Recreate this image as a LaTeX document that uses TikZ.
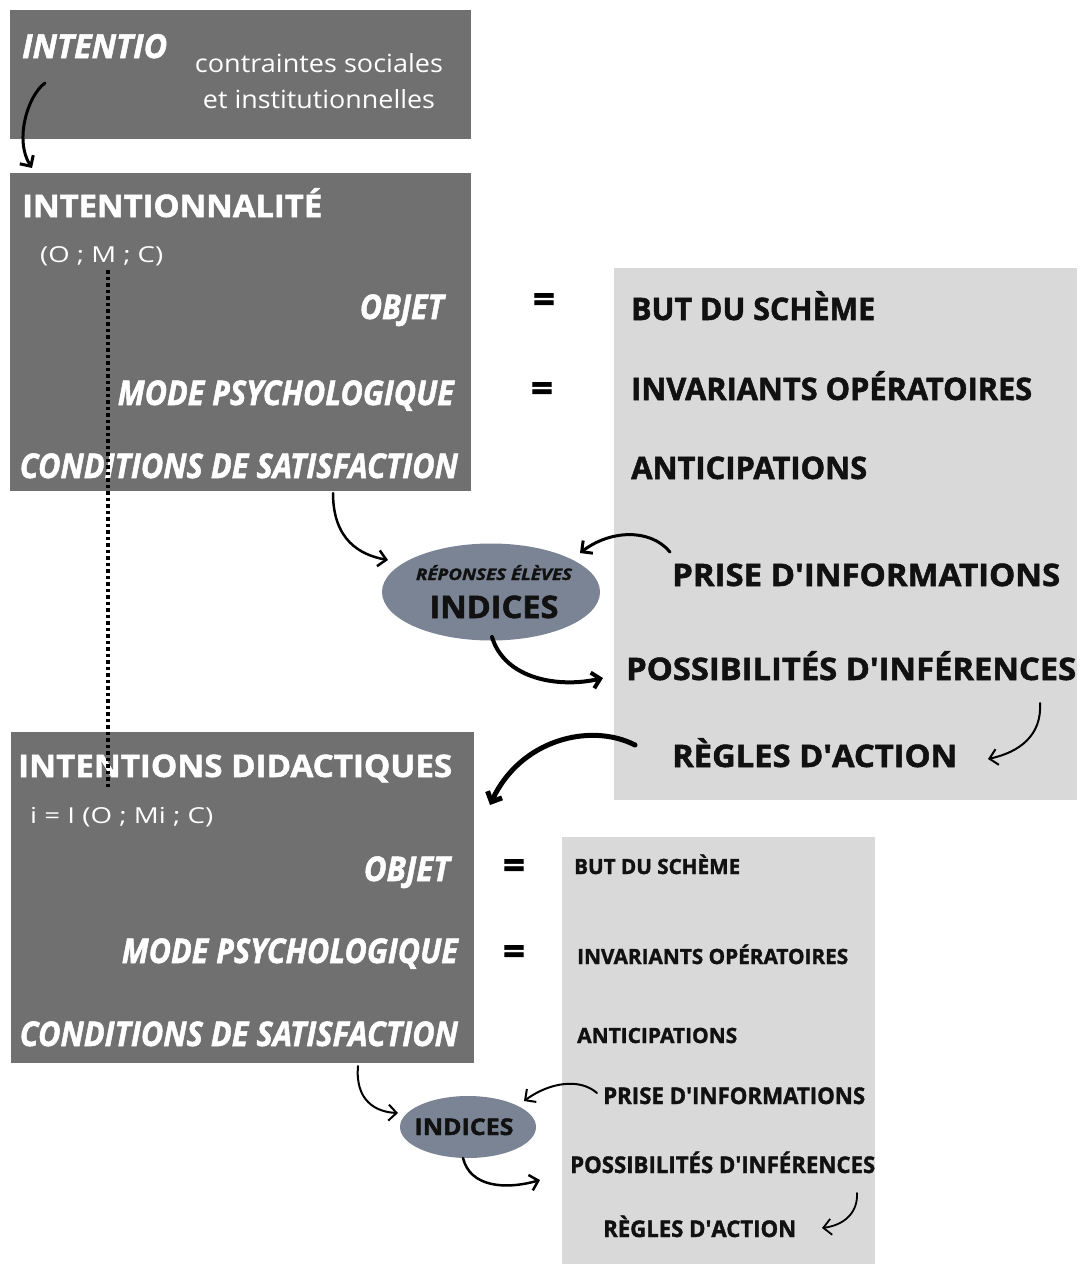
\documentclass[tikz,border=0pt]{standalone}
\usepackage{fontspec}
\setmainfont{Open Sans}[BoldFeatures={FakeBold=1.6}, BoldItalicFeatures={FakeBold=1.6}]
\usetikzlibrary{arrows.meta,shapes.geometric}
\newcommand{\fw}[2]{\resizebox{#1}{\height}{#2}}
\newcommand{\fsz}[1]{\fontsize{#1}{#1}\selectfont}
\newcommand{\apo}{\textquotesingle}
\definecolor{boxdark}{HTML}{707070}
\definecolor{boxlight}{HTML}{D9D9D9}
\definecolor{ellcol}{HTML}{7A8494}
\definecolor{txtdark}{HTML}{111111}
\tikzset{
  darkbox/.style={fill=boxdark, draw=none, inner sep=0, anchor=north west},
  lightbox/.style={fill=boxlight, draw=none, inner sep=0, anchor=north west},
  ellbox/.style={ellipse, fill=ellcol, draw=none, inner sep=0},
  wtxt/.style={text=white, inner sep=0},
  btxt/.style={text=txtdark, inner sep=0},
  eqsign/.style={text=black, inner sep=0, font=\fsz{38}\bfseries},
  arr/.style={draw=black, line cap=round, -{Straight Barb[length=8pt,width=16pt]}},
  dotline/.style={draw=black, line width=3.5pt, dash pattern=on 3.5pt off 3pt}
}
\begin{document}
\begin{tikzpicture}[x=1pt,y=-1pt]
\useasboundingbox (0,0) rectangle (1083,1264);
% boxes
\node[darkbox, minimum width=461, minimum height=129] (box1) at (10,10) {};
\node[darkbox, minimum width=461, minimum height=318] (box2) at (10,173) {};
\node[lightbox, minimum width=463, minimum height=532] (grey1) at (614,268) {};
\node[darkbox, minimum width=463, minimum height=331] (box3) at (11,732) {};
\node[lightbox, minimum width=313, minimum height=427] (grey2) at (562,837) {};
\node[ellbox, minimum width=218, minimum height=97] (ell1) at (491,592) {};
\node[ellbox, minimum width=136, minimum height=62] (ell2) at (468,1127) {};

% box 1
\node[wtxt, anchor=base west] (intentio) at (22,58) {\fw{145pt}{\fsz{33}\bfseries\itshape INTENTIO}};
\node[wtxt, anchor=base] (contr1) at (319,72) {\fw{248pt}{\fsz{25}contraintes sociales}};
\node[wtxt, anchor=base] (contr2) at (319,108) {\fw{232pt}{\fsz{25}et institutionnelles}};

% box 2
\node[wtxt, anchor=base west] (intnal) at (22,217) {\fw{300pt}{\fsz{31}\bfseries INTENTIONNALITÉ}};
\node[wtxt, anchor=base west] (omc) at (40,262) {\fw{123pt}{\fsz{22}(O ; M ; C)}};
\node[wtxt, anchor=base east] (obj1) at (444,319) {\fw{84pt}{\fsz{34}\bfseries\itshape OBJET}};
\node[wtxt, anchor=base east] (mode1) at (454,405) {\fw{336pt}{\fsz{34}\bfseries\itshape MODE PSYCHOLOGIQUE}};
\node[wtxt, anchor=base east] (cond1) at (458,478) {\fw{438pt}{\fsz{34}\bfseries\itshape CONDITIONS DE SATISFACTION}};
\node[eqsign] (eq1) at (544,303) {=};
\node[eqsign] (eq2) at (542,392) {=};

% grey 1
\node[btxt, anchor=base west] (but1) at (631,320) {\fw{244pt}{\fsz{31}\bfseries BUT DU SCHÈME}};
\node[btxt, anchor=base west] (inv1) at (631,400) {\fw{401pt}{\fsz{31}\bfseries INVARIANTS OPÉRATOIRES}};
\node[btxt, anchor=base west] (anti1) at (631,479) {\fw{236pt}{\fsz{31}\bfseries ANTICIPATIONS}};
\node[btxt, anchor=base west] (prise1) at (672,586) {\fw{388pt}{\fsz{31}\bfseries PRISE D\apo INFORMATIONS}};
\node[btxt, anchor=base west] (poss1) at (626,680) {\fw{450pt}{\fsz{31}\bfseries POSSIBILITÉS D\apo INFÉRENCES}};
\node[btxt, anchor=base west] (regl1) at (672,767) {\fw{285pt}{\fsz{31}\bfseries RÈGLES D\apo ACTION}};

% ellipse 1
\node[btxt, anchor=base] (rep) at (494,580) {\fw{156pt}{\fsz{16}\bfseries\itshape RÉPONSES ÉLÈVES}};
\node[btxt, anchor=base] (ind1) at (494,618) {\fw{129pt}{\fsz{31}\bfseries INDICES}};

% box 3
\node[wtxt, anchor=base west] (intdid) at (18,777) {\fw{434pt}{\fsz{31}\bfseries INTENTIONS DIDACTIQUES}};
\node[wtxt, anchor=base west] (iomc) at (30,823) {\fw{183pt}{\fsz{22}i = I (O ; Mi ; C)}};
\node[wtxt, anchor=base east] (obj2) at (450,881) {\fw{86pt}{\fsz{34}\bfseries\itshape OBJET}};
\node[wtxt, anchor=base east] (mode2) at (458,963) {\fw{336pt}{\fsz{34}\bfseries\itshape MODE PSYCHOLOGIQUE}};
\node[wtxt, anchor=base east] (cond2) at (458,1046) {\fw{438pt}{\fsz{34}\bfseries\itshape CONDITIONS DE SATISFACTION}};
\node[eqsign] (eq3) at (514,869) {=};
\node[eqsign] (eq4) at (514,955) {=};

% grey 2
\node[btxt, anchor=base west] (but2) at (574,874) {\fw{166pt}{\fsz{21}\bfseries BUT DU SCHÈME}};
\node[btxt, anchor=base west] (inv2) at (577,964) {\fw{271pt}{\fsz{21}\bfseries INVARIANTS OPÉRATOIRES}};
\node[btxt, anchor=base west] (anti2) at (577,1043) {\fw{160pt}{\fsz{21}\bfseries ANTICIPATIONS}};
\node[btxt, anchor=base west] (prise2) at (603,1104) {\fw{262pt}{\fsz{23}\bfseries PRISE D\apo INFORMATIONS}};
\node[btxt, anchor=base west] (poss2) at (570,1173) {\fw{305pt}{\fsz{23}\bfseries POSSIBILITÉS D\apo INFÉRENCES}};
\node[btxt, anchor=base west] (regl2) at (603,1237) {\fw{193pt}{\fsz{23}\bfseries RÈGLES D\apo ACTION}};
\node[btxt, anchor=base] (ind2) at (464,1135) {\fw{99pt}{\fsz{23}\bfseries INDICES}};

% dotted line
\coordinate (dtop) at (108,270);
\coordinate (dbot) at (108,790);
\draw[dotline] (dtop) -- (dbot);

% arrow coordinates
\coordinate (a1s) at (45,83);   \coordinate (a1e) at (32,168);
\coordinate (a2s) at (333,493); \coordinate (a2e) at (388,560);
\coordinate (a3s) at (670,552); \coordinate (a3e) at (580,553);
\coordinate (a4s) at (492,637); \coordinate (a4e) at (603,678);
\coordinate (a5s) at (1040,703);\coordinate (a5e) at (988,759);
\coordinate (a6s) at (635,745); \coordinate (a6e) at (490,805);
\coordinate (b1s) at (358,1066);\coordinate (b1e) at (398,1113);
\coordinate (b2s) at (597,1093);\coordinate (b2e) at (524,1101);
\coordinate (b3s) at (463,1158);\coordinate (b3e) at (540,1180);
\coordinate (b4s) at (857,1193);\coordinate (b4e) at (822,1228);

\draw[arr, line width=3pt] (a1s) .. controls (28,95) and (14,140) .. (a1e);
\draw[arr, line width=2.5pt] (a2s) .. controls (333,540) and (360,555) .. (a2e);
\draw[arr, line width=3pt] (a3s) .. controls (650,528) and (610,530) .. (a3e);
\draw[arr, line width=4pt] (a4s) .. controls (505,680) and (560,688) .. (a4e);
\draw[arr, line width=2pt] (a5s) .. controls (1042,735) and (1020,752) .. (a5e);
\draw[arr, line width=5pt] (a6s) .. controls (590,722) and (520,740) .. (a6e);
\draw[arr, line width=2pt] (b1s) .. controls (355,1100) and (375,1112) .. (b1e);
\draw[arr, line width=2pt] (b2s) .. controls (580,1078) and (550,1082) .. (b2e);
\draw[arr, line width=2.5pt] (b3s) .. controls (470,1187) and (505,1190) .. (b3e);
\draw[arr, line width=1.8pt] (b4s) .. controls (858,1212) and (845,1225) .. (b4e);
\end{tikzpicture}
\end{document}
